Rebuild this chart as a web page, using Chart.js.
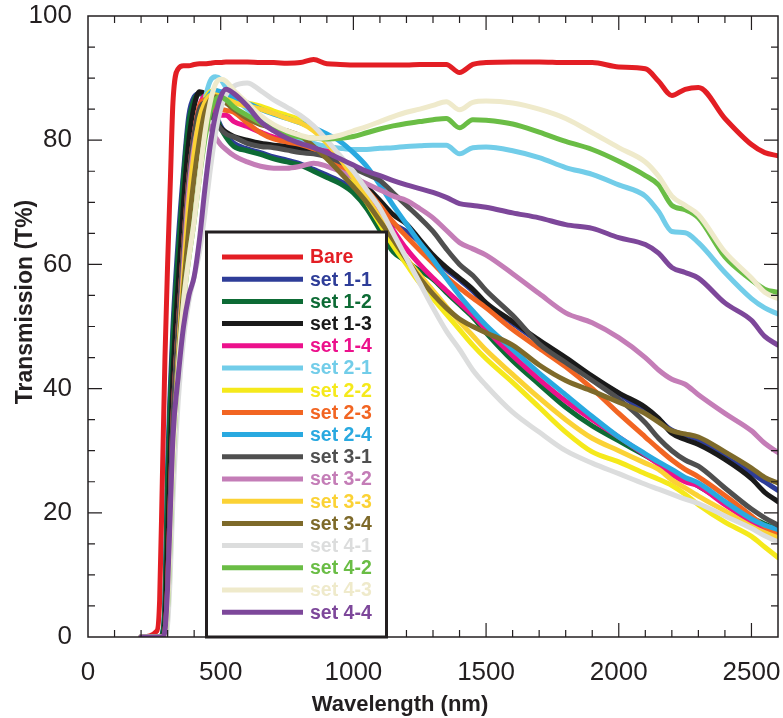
<!DOCTYPE html>
<html>
<head>
<meta charset="utf-8">
<script src="https://cdn.jsdelivr.net/npm/chart.js@4.4.1/dist/chart.umd.min.js"></script>
<style>
  html, body { margin: 0; padding: 0; background: #fff; }
  #wrap { width: 783px; height: 718px; }
</style>
</head>
<body>
<div id="wrap"><canvas id="chart" width="783" height="718"></canvas></div>
<script>
// Wavelength grid (nm), shared by every curve
const wavelengths = [200, 260, 270, 280, 290, 300, 310, 320, 340, 360, 380, 400, 420, 440, 460, 480, 500, 520, 550,
  600, 650, 700, 750, 800, 850, 900, 950, 1000, 1050, 1100, 1150, 1200, 1250, 1300, 1350, 1400, 1450, 1500,
  1600, 1700, 1800, 1900, 2000, 2100, 2150, 2200, 2250, 2300, 2400, 2500, 2550, 2600];
const xTicks = [0, 500, 1000, 1500, 2000, 2500];
const yTicks = [0, 20, 40, 60, 80, 100];

// Transmission (%)
const bare = [0, 1, 6, 25, 45, 60, 73, 86, 91.5, 92, 92, 92.2, 92.3, 92.3, 92.4, 92.5, 92.5, 92.6, 92.6,
  92.6, 92.5, 92.5, 92.4, 92.5, 93, 92.3, 92.2, 92.1, 92.1, 92.1, 92.1, 92.1, 92.2, 92.2, 92.2, 90.9, 92.2, 92.5,
  92.6, 92.6, 92.5, 92.5, 91.8, 91.5, 89.5, 87.2, 88.2, 88.5, 83.5, 79.3, 78, 77.5];
const set11 = [0, 0, 0, 0.5, 6, 27, 40, 50, 64, 75, 84, 87, 87.5, 87.3, 86, 84.3, 82.3, 81, 79.5,
  78.6, 78, 77.3, 76.8, 76.2, 75.3, 74.4, 73.4, 72.2, 70.5, 68.5, 66.5, 65.3, 63.6, 61.3, 59.2, 57.5, 55.7, 53.5,
  50.5, 47.5, 44.7, 41.7, 39.2, 36.2, 35, 33.3, 32.5, 31.8, 29, 26.4, 25, 23.6];
const set12 = [0, 0, 0, 0.5, 5, 25, 38, 48, 62, 74, 83, 86.5, 87.5, 87.5, 86, 84, 82, 80.5, 79,
  78.3, 77.7, 77, 76.5, 76, 75, 74, 73, 71.5, 69, 65.5, 62, 60.5, 59, 57.6, 55.5, 53.5, 51.5, 49,
  44.5, 40.7, 37, 34, 31.6, 29.2, 28, 26.7, 25.5, 24.3, 21.7, 19.2, 18.2, 17.3];
const set13 = [0, 0, 0, 0, 2, 15, 30, 42, 57, 70, 80, 85.5, 87.8, 87.5, 85, 83, 82, 81.3, 80.6,
  80, 79.5, 79.2, 79, 78.7, 78.3, 77.5, 76.2, 74.5, 72.5, 70.3, 68, 66.5, 64, 61.5, 59.5, 57.8, 56, 53.8,
  50.8, 47.8, 45, 42, 39.3, 37, 35.2, 32.8, 31.8, 31, 28.6, 25.5, 23.3, 21.8];
const set14 = [0, 0, 0, 0, 1, 8, 22, 35, 50, 63, 74, 81, 85.5, 87.1, 86, 84.5, 84, 84, 83,
  82.2, 81.3, 80.5, 80, 79.7, 79.3, 78.5, 77, 74.5, 71.8, 68.5, 65.5, 62.5, 60, 57.8, 55.8, 53.8, 51.8, 49.5,
  45.3, 41.5, 38, 35, 32.2, 29.3, 27.8, 26.2, 25, 24.3, 21.3, 18.5, 17.3, 16.3];
const set21 = [0, 0, 0, 0, 0.5, 5, 18, 30, 46, 58, 68, 76, 82, 86.5, 89.5, 90.2, 89.8, 88.5, 87,
  85, 83.3, 82, 81, 80.2, 79.5, 79, 78.7, 78.5, 78.5, 78.7, 78.8, 79, 79.1, 79.2, 79.2, 77.8, 78.8, 78.9,
  78.3, 77.2, 75.6, 74.5, 72.8, 71, 68.5, 65.3, 65.1, 63.5, 58.7, 54.5, 53, 52];
const set22 = [0, 0, 0, 0, 0.5, 6, 18, 30, 47, 60, 71, 79, 84, 86.5, 87.8, 88, 87.5, 87, 86.5,
  86, 85.5, 84.7, 84, 83.3, 82, 79.8, 77, 73.5, 70, 66.5, 63, 60, 57, 54.5, 52, 49.5, 47, 44.8,
  41, 37, 33, 29.8, 28.2, 26.3, 25.4, 24.4, 23, 21.3, 18.5, 16.2, 14.5, 12.8];
const set23 = [0, 0, 0, 0, 1, 8, 22, 35, 50, 63, 74, 81, 85.5, 86.5, 86, 85.5, 85, 84.8, 84.5,
  82.8, 81.2, 80.2, 79.7, 79.3, 78.6, 77.5, 75.8, 74, 72, 69.5, 66.8, 64.5, 62.3, 60.2, 58, 56.2, 54.6, 53,
  49.5, 46.5, 43.5, 40, 36, 32.2, 30.3, 28.5, 27, 25.8, 22.8, 19.5, 17.8, 16.6];
const set24 = [0, 0, 0, 0, 0.5, 5, 17, 29, 45, 58, 69, 77, 82.5, 86, 87.5, 88, 87.8, 87.5, 87,
  86, 85, 84.2, 83.5, 82.8, 82, 81, 79.8, 78, 75.8, 72.8, 69.5, 66.5, 63.5, 60.8, 57.8, 55, 52.5, 50.2,
  46.3, 42.5, 39, 35.5, 32.2, 29.5, 28.2, 27, 25.7, 24.8, 21.8, 19, 18, 17.3];
const set31 = [0, 0, 0, 0, 1, 8, 22, 35, 50, 63, 74, 81, 85, 86, 84.5, 83, 81.8, 81, 80.5,
  79.5, 79, 78.8, 78.4, 78, 77.8, 77.3, 76.5, 75.5, 74.5, 73.5, 71.5, 69.5, 67.5, 65.3, 62.5, 60, 58.2, 55.8,
  51.8, 47.2, 44.2, 41.3, 38.3, 34.5, 32, 30, 28.5, 27.5, 24, 20.6, 19.2, 18];
const set32 = [0, 0, 0, 0, 0.5, 4, 14, 27, 45, 60, 72, 79, 82.5, 83, 82, 80.5, 79.3, 78.5, 77.5,
  76.5, 75.8, 75.5, 75.5, 75.8, 76.3, 75.8, 75, 74, 73, 72, 71, 70.3, 69, 67.5, 65.5, 63.5, 62.5, 61.5,
  58.5, 55.3, 52.2, 50.6, 48.2, 45, 43, 41.5, 40.7, 39, 36, 33.2, 31.2, 29.7];
const set33 = [0, 0, 0, 0, 0.5, 5, 16, 28, 45, 58, 70, 78, 83.5, 86, 87.2, 87.3, 87, 86.5, 86,
  85.5, 85, 84.3, 83.5, 82.8, 81.5, 79.5, 77, 74, 70.8, 67.5, 64.2, 61, 58.3, 55.8, 53.2, 50.8, 48.5, 46.2,
  42.3, 38.5, 35, 32, 30, 28, 27, 25.3, 24, 22.7, 20.3, 17.8, 16.8, 16];
const set34 = [0, 0, 0, 0, 0.5, 5, 16, 28, 44, 56, 66, 74, 80, 84.5, 86.5, 87, 86.5, 86, 85,
  83.5, 82.5, 82, 81.5, 80.7, 79, 77, 74.8, 72.5, 70, 67, 64, 60.8, 57.8, 55.2, 53, 51.2, 50, 49,
  47, 43.8, 41.3, 39.6, 37.8, 36, 34.6, 33.2, 32.7, 32.2, 29.8, 27.2, 25.7, 24.8];
const set41 = [0, 0, 0, 0, 0, 2, 10, 22, 38, 48, 54, 58, 62, 68, 75, 81, 85, 87.3, 88.7,
  89.2, 88, 86.5, 85.3, 84, 82.3, 80, 77.5, 75, 72, 69, 65, 61, 57, 53, 49.3, 46.3, 43, 40.5,
  36.2, 33, 30, 28, 26.3, 24.6, 23.8, 23, 22.2, 21.5, 19.5, 17.5, 16.3, 15.3];
const set42 = [0, 0, 0, 0, 0.5, 5, 16, 28, 43, 54, 61, 67, 74, 80, 84.5, 86.5, 87, 86.5, 85.3,
  84, 82.8, 81.8, 81, 80.5, 80.3, 80.2, 80.3, 80.6, 81.2, 81.8, 82.3, 82.7, 83, 83.3, 83.5, 82, 83.3, 83.2,
  82.6, 81.3, 79.8, 78.5, 76.6, 74.3, 72.8, 69.5, 68.8, 67.5, 61.2, 57.5, 56, 55.5];
const set43 = [0, 0, 0, 0, 0.5, 5, 16, 28, 43, 54, 61, 67, 74, 81, 86, 89, 89.8, 89.5, 88,
  86, 84, 82.5, 81.5, 80.8, 80.3, 80.4, 80.8, 81.5, 82.2, 83, 83.8, 84.5, 85, 85.6, 86.2, 84.9, 86.1, 86.3,
  86, 85, 83.5, 81.2, 78.8, 76.5, 74.2, 71, 69.5, 68, 62, 57.8, 55.5, 54.5];
const set44 = [0, 0, 0, 0, 1, 8, 20, 32, 42, 50, 55, 58, 64, 72, 79, 84, 87, 88.2, 87.5,
  85.5, 83, 81.5, 80.3, 79.5, 78.8, 78, 77, 76, 75, 74.3, 73.5, 72.8, 72.2, 71.6, 70.8, 69.8, 69.5, 69.2,
  68.3, 67.5, 66.4, 65.8, 64.3, 63.2, 61.8, 59.5, 58.7, 57.8, 53.8, 51, 48.4, 47];

const seriesNames = ['Bare', 'set 1-1', 'set 1-2', 'set 1-3', 'set 1-4', 'set 2-1', 'set 2-2', 'set 2-3',
  'set 2-4', 'set 3-1', 'set 3-2', 'set 3-3', 'set 3-4', 'set 4-1', 'set 4-2', 'set 4-3', 'set 4-4'];
const seriesColors = ['#e31e24', '#2e3d98', '#0d6b35', '#1a1a1a', '#ec118c', '#72cde9', '#f5e91b', '#f26522',
  '#29a9e0', '#4f4f4f', '#c47db7', '#fbd235', '#7e6a2a', '#dcdddd', '#6abd45', '#efeacb', '#7d479a'];
const seriesValues = [bare, set11, set12, set13, set14, set21, set22, set23, set24,
  set31, set32, set33, set34, set41, set42, set43, set44];

const FONT = 'Arial, "Liberation Sans", Helvetica, sans-serif';
const INK = '#231f20';

// Frame with inward ticks on all four sides
const framePlugin = {
  id: 'frame',
  afterDatasetsDraw(chart) {
    const { ctx, chartArea: a, scales: { x, y } } = chart;
    ctx.save();
    ctx.strokeStyle = INK;
    ctx.lineWidth = 1.5;
    ctx.strokeRect(a.left, a.top, a.right - a.left, a.bottom - a.top);
    ctx.lineWidth = 1.2;
    ctx.beginPath();
    for (let v = 100; v < 2600; v += 100) {
      const px = x.getPixelForValue(v);
      const len = v % 500 === 0 ? 14 : 7;
      ctx.moveTo(px, a.bottom); ctx.lineTo(px, a.bottom - len);
      ctx.moveTo(px, a.top); ctx.lineTo(px, a.top + len);
    }
    for (let v = 5; v < 100; v += 5) {
      const py = y.getPixelForValue(v);
      const len = v % 20 === 0 ? 14 : 7;
      ctx.moveTo(a.left, py); ctx.lineTo(a.left + len, py);
      ctx.moveTo(a.right, py); ctx.lineTo(a.right - len, py);
    }
    ctx.stroke();

    // axis titles
    ctx.fillStyle = INK;
    ctx.textAlign = 'center';
    ctx.textBaseline = 'alphabetic';
    ctx.font = 'bold 22px ' + FONT;
    ctx.fillText('Wavelength (nm)', 400, 711);
    ctx.translate(32, 302);
    ctx.rotate(-Math.PI / 2);
    ctx.font = 'bold 23px ' + FONT;
    ctx.fillText('Transmission (T%)', 0, 0);
    ctx.restore();
  }
};

// Boxed legend sitting inside the plot
const legendBox = {
  id: 'legendBox',
  afterDatasetsDraw(chart) {
    const { ctx, chartArea: a } = chart;
    const left = 206.5, right = 386.5, top = 232;
    ctx.save();
    ctx.fillStyle = '#fff';
    ctx.fillRect(left, top, right - left, a.bottom - top);
    ctx.strokeStyle = INK;
    ctx.lineWidth = 3;
    ctx.strokeRect(left, top, right - left, a.bottom - top);
    ctx.font = 'bold 19.5px ' + FONT;
    ctx.textBaseline = 'middle';
    chart.data.datasets.forEach((ds, i) => {
      const yy = 257 + i * 22.2;
      ctx.strokeStyle = ds.borderColor;
      ctx.lineWidth = 5;
      ctx.beginPath();
      ctx.moveTo(222, yy); ctx.lineTo(303, yy);
      ctx.stroke();
      ctx.fillStyle = ds.borderColor;
      ctx.fillText(ds.label, 310, yy + 1);
    });
    ctx.restore();
  }
};

const datasets = seriesNames.map((name, i) => ({
  label: name,
  data: wavelengths.map((w, k) => ({ x: w, y: seriesValues[i][k] })),
  borderColor: seriesColors[i],
  backgroundColor: seriesColors[i],
  borderWidth: 5,
  pointRadius: 0,
  cubicInterpolationMode: 'monotone',
  borderJoinStyle: 'round',
  borderCapStyle: 'round',
  order: -i
}));

new Chart(document.getElementById('chart'), {
  type: 'line',
  data: { datasets },
  options: {
    responsive: false,
    maintainAspectRatio: false,
    animation: false,
    devicePixelRatio: 1,
    layout: { padding: { top: 16, right: 5, left: 0, bottom: 0 } },
    plugins: { legend: { display: false }, tooltip: { enabled: false } },
    scales: {
      x: {
        type: 'linear',
        min: 0,
        max: 2600,
        afterFit: s => { s.height = 81; s.paddingLeft = 0; s.paddingRight = 0; },
        afterBuildTicks: s => { s.ticks = xTicks.map(v => ({ value: v })); },
        ticks: { autoSkip: false, maxRotation: 0, minRotation: 0, padding: 20, color: INK,
          font: { family: FONT, size: 26 }, callback: v => String(v) },
        grid: { display: false, drawTicks: false },
        border: { display: false },
        title: { display: false }
      },
      y: {
        min: 0,
        max: 100,
        afterFit: s => { s.width = 88; s.paddingTop = 0; s.paddingBottom = 0; },
        afterBuildTicks: s => { s.ticks = yTicks.map(v => ({ value: v })); },
        ticks: { autoSkip: false, padding: 16, color: INK, font: { family: FONT, size: 26 },
          callback: v => String(v) },
        grid: { display: false, drawTicks: false },
        border: { display: false },
        title: { display: false }
      }
    }
  },
  plugins: [framePlugin, legendBox]
});
</script>
</body>
</html>
